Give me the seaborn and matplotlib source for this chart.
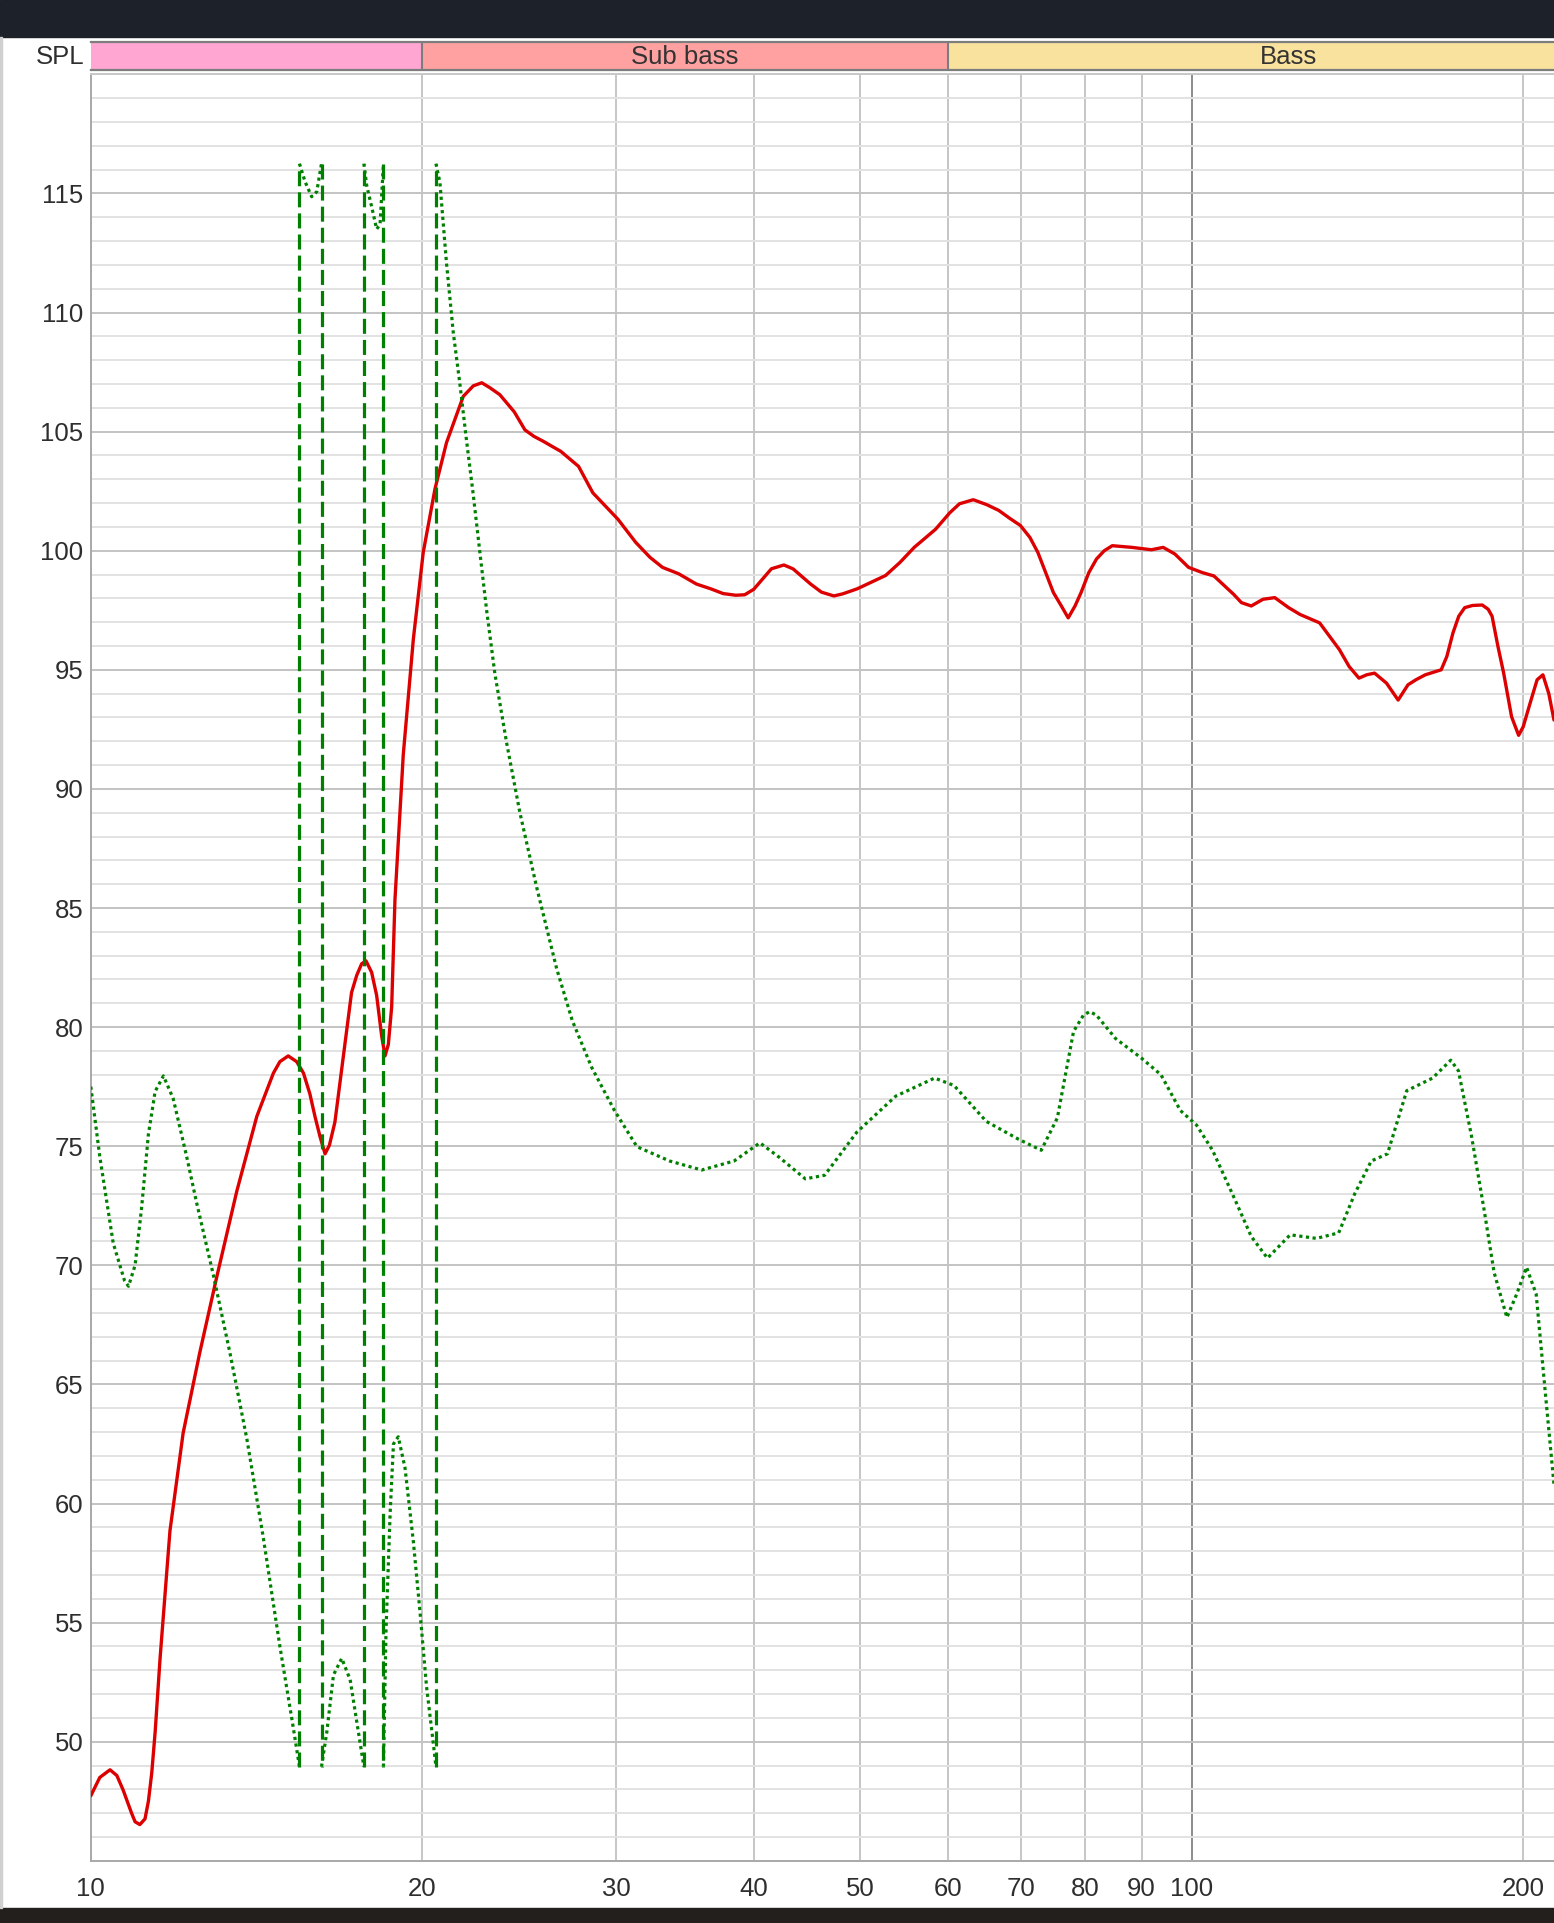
import numpy as np
import matplotlib
matplotlib.use("Agg")
import matplotlib.pyplot as plt
import seaborn as sns
from matplotlib.ticker import MultipleLocator, NullLocator
from matplotlib.patches import Rectangle

# ---------------- data ----------------
red_freq = [10.0, 10.19, 10.41, 10.56, 10.7, 10.89, 10.97, 11.08, 11.2, 11.28, 11.36, 11.44,
            11.56, 11.68, 11.8, 12.13, 12.56, 13.01, 13.57, 14.15, 14.65, 14.85, 15.11, 15.38,
            15.6, 15.81, 15.98, 16.15, 16.32, 16.47, 16.66, 17.08, 17.25, 17.44, 17.62, 17.78,
            17.99, 18.18, 18.37, 18.5, 18.63, 18.76, 18.89, 19.22, 19.63, 20.04, 20.54, 21.04,
            21.79, 22.25, 22.65, 23.04, 23.52, 24.24, 24.79, 25.26, 25.74, 26.72, 27.73, 28.57,
            30.11, 31.25, 32.2, 33.05, 34.19, 35.48, 36.56, 37.52, 38.52, 39.25, 40.0, 41.5,
            42.6, 43.42, 45.05, 46.08, 47.3, 48.19, 49.66, 51.16, 52.7, 54.31, 55.95, 58.5,
            60.26, 61.5, 63.3, 65.13, 66.77, 68.41, 69.85, 71.25, 72.45, 74.85, 76.1, 77.2,
            78.31, 79.3, 80.6, 81.9, 83.25, 84.65, 88.2, 91.88, 94.16, 96.5, 99.3, 102.2,
            104.7, 109.1, 110.9, 113.2, 116.0, 118.9, 122.4, 125.4, 130.6, 136.1, 138.9, 141.8,
            144.1, 146.5, 150.2, 153.9, 157.1, 159.7, 162.9, 168.4, 170.4, 172.6, 174.7, 176.9,
            179.8, 183.5, 185.8, 187.3, 189.6, 191.9, 195.1, 198.0, 199.9, 203.2, 205.8, 208.3,
            210.9, 213.2]
red_spl = [47.73, 48.5, 48.82, 48.58, 47.97, 47.0, 46.64, 46.52, 46.76, 47.5, 48.7, 50.4,
           53.53, 56.2, 58.85, 62.96, 66.34, 69.49, 73.11, 76.25, 78.07, 78.55, 78.79, 78.55,
           78.07, 77.2, 76.25, 75.4, 74.68, 75.04, 76.01, 79.88, 81.45, 82.18, 82.66, 82.78,
           82.3, 81.33, 79.64, 78.79, 79.27, 80.85, 85.36, 91.43, 96.29, 99.93, 102.6, 104.54,
           106.48, 106.92, 107.05, 106.84, 106.55, 105.83, 105.07, 104.8, 104.6, 104.17, 103.54, 102.43,
           101.32, 100.35, 99.72, 99.3, 99.03, 98.6, 98.4, 98.2, 98.13, 98.15, 98.38, 99.24,
           99.4, 99.24, 98.6, 98.26, 98.1, 98.19, 98.4, 98.68, 98.96, 99.51, 100.14, 100.9,
           101.59, 101.97, 102.14, 101.93, 101.69, 101.34, 101.06, 100.56, 99.93, 98.24, 97.68, 97.18,
           97.68, 98.24, 99.08, 99.65, 100.0, 100.21, 100.14, 100.04, 100.14, 99.86, 99.3, 99.08,
           98.94, 98.17, 97.82, 97.68, 97.96, 98.03, 97.61, 97.32, 96.97, 95.85, 95.14, 94.65,
           94.79, 94.86, 94.44, 93.73, 94.37, 94.58, 94.79, 95.0, 95.56, 96.55, 97.25, 97.61,
           97.7, 97.72, 97.54, 97.25, 95.99, 94.86, 93.03, 92.25, 92.61, 93.73, 94.58, 94.79,
           94.0, 92.89]

# green trace, split where it wraps around the display range
green_freq_1 = [10.0, 10.19, 10.48, 10.73, 10.82, 10.97, 11.12, 11.28, 11.44, 11.64, 11.88,
                12.22, 12.48, 12.92, 13.38, 13.86, 14.34, 14.85, 15.27, 15.47]
green_spl_1 = [77.5, 74.56, 70.93, 69.36, 69.12, 70.0, 72.4, 75.5, 77.3, 77.95, 77.0,
               74.56, 72.6, 69.6, 66.3, 62.7, 58.6, 54.0, 50.6, 48.95]
green_freq_2 = [15.47, 15.65, 15.87, 16.04, 16.2]
green_spl_2 = [116.25, 115.5, 114.86, 115.07, 116.25]
green_freq_3 = [16.2, 16.38, 16.61, 16.9, 17.2, 17.5, 17.7]
green_spl_3 = [48.95, 50.4, 52.8, 53.5, 52.6, 50.4, 48.95]
green_freq_4 = [17.7, 17.81, 18.0, 18.18, 18.31, 18.44]
green_spl_4 = [116.25, 115.3, 114.4, 113.5, 113.7, 116.25]
green_freq_5 = [18.44, 18.54, 18.7, 18.83, 19.02, 19.29, 19.63, 19.9, 20.18, 20.47, 20.58]
green_spl_5 = [48.95, 54.7, 59.6, 62.5, 62.8, 61.5, 58.4, 55.5, 52.3, 49.9, 48.95]
green_freq_6 = [20.58, 20.75, 21.04, 21.34, 21.64, 21.95, 22.25, 22.56, 22.88, 23.28, 23.86,
                24.53, 25.41, 26.49, 27.37, 28.5, 29.89, 31.33, 33.54, 35.87, 38.39, 40.52,
                42.2, 44.55, 46.39, 49.62, 53.82, 58.38, 60.8, 65.05, 69.6, 72.97, 75.47,
                78.07, 79.7, 80.75, 81.9, 85.24, 90.02, 93.72, 97.6, 100.95, 104.4, 109.5, 113.2,
                117.1, 122.8, 129.7, 135.9, 140.6, 145.5, 150.5, 156.7, 165.4, 171.8, 174.6,
                179.4, 184.3, 188.1, 193.2, 197.2, 201.3, 205.4, 209.6, 213.2]
green_spl_6 = [116.25, 115.46, 112.06, 109.15, 106.97, 104.54, 102.35, 99.93, 97.5, 94.83, 91.92,
               89.0, 85.85, 82.45, 80.27, 78.31, 76.5, 74.98, 74.38, 74.0, 74.38, 75.14,
               74.53, 73.63, 73.78, 75.59, 77.1, 77.86, 77.55, 76.04, 75.29, 74.83, 76.19,
               79.82, 80.5, 80.65, 80.5, 79.52, 78.69, 78.0, 76.5, 75.89, 74.83, 72.72, 71.21,
               70.3, 71.28, 71.13, 71.36, 73.02, 74.38, 74.68, 77.33, 77.86, 78.61, 78.16,
               75.44, 72.27, 69.7, 67.81, 68.79, 69.92, 68.79, 64.41, 60.79]

xtick_values = [10, 20, 30, 40, 50, 60, 70, 80, 90, 100, 200]
xtick_labels = ["10", "20", "30", "40", "50", "60", "70", "80", "90", "100", "200"]
ytick_values = [50, 55, 60, 65, 70, 75, 80, 85, 90, 95, 100, 105, 110, 115]

band_names = ["", "Sub bass", "Bass"]
band_low = [5, 20, 60]
band_high = [20, 60, 250]
band_colors = ["#ffa6d3", "#ffa1a1", "#f9e29e"]

# ---------------- style ----------------
sns.set_theme(style="white")
plt.rcParams["font.family"] = ["Liberation Sans", "DejaVu Sans"]

W, H = 1554, 1923
fig = plt.figure(figsize=(W / 100, H / 100), dpi=100)
fig.patch.set_facecolor("white")

X0 = 90.8
Y_TOP, Y_BOT = 74.3, 1860.8
ax = fig.add_axes([X0 / W, 1 - Y_BOT / H, 1 - X0 / W, (Y_BOT - Y_TOP) / H])
ax.set_xscale("log")
ax.set_xlim(10, 213.2)
ax.set_ylim(45, 120)
ax.set_axisbelow(True)

# grid
ax.set_xticks(xtick_values, labels=xtick_labels)
ax.xaxis.set_minor_locator(NullLocator())
ax.set_yticks(ytick_values)
ax.yaxis.set_minor_locator(MultipleLocator(1))
ax.grid(which="minor", axis="y", color="#e2e2e2", linewidth=1.4)
ax.grid(which="major", axis="y", color="#c3c3c3", linewidth=1.4)
ax.grid(which="major", axis="x", color="#c6c6c6", linewidth=1.4)
for gl, v in zip(ax.get_xgridlines(), xtick_values):
    if v == 100:
        gl.set_color("#8c8c8c")

ax.tick_params(which="both", length=0, labelsize=18.5, labelcolor="#2e2e2e")
ax.tick_params(axis="x", pad=12)
ax.tick_params(axis="y", pad=5.4)

for side in ["left", "bottom"]:
    ax.spines[side].set_color("#a9a9a9")
    ax.spines[side].set_linewidth(1.4)
ax.spines["top"].set_color("#c8c8c8")
ax.spines["top"].set_linewidth(1.4)
ax.spines["right"].set_visible(False)

# ---------------- curves ----------------
sns.lineplot(x=red_freq, y=red_spl, ax=ax, color="#dd0000", linewidth=2.4,
             estimator=None, sort=False, zorder=3, solid_joinstyle="round",
             solid_capstyle="round")

green_segments = [(green_freq_1, green_spl_1), (green_freq_2, green_spl_2),
                  (green_freq_3, green_spl_3), (green_freq_4, green_spl_4),
                  (green_freq_5, green_spl_5), (green_freq_6, green_spl_6)]
for f, v in green_segments:
    sns.lineplot(x=f, y=v, ax=ax, color="#008000", linewidth=2.3,
                 linestyle=(0, (1, 1.1)), estimator=None, sort=False, zorder=4,
                 dash_joinstyle="round")
# dashed wrap connectors between consecutive segments
for (f_a, v_a), (f_b, v_b) in zip(green_segments[:-1], green_segments[1:]):
    sns.lineplot(x=[f_a[-1], f_b[0]], y=[v_a[-1], v_b[0]], ax=ax, color="#008000",
                 linewidth=2.3, linestyle=(0, (4.7, 1.9)), estimator=None, sort=False,
                 zorder=4)

ax.set_xlabel("")
ax.set_ylabel("")
if ax.get_legend() is not None:
    ax.get_legend().remove()

# ---------------- band bar ----------------
BY_TOP, BY_BOT = 41.5, 70.0
bax = fig.add_axes([X0 / W, 1 - BY_BOT / H, 1 - X0 / W, (BY_BOT - BY_TOP) / H])
bax.set_xscale("log")
bax.set_xlim(10, 213.2)
bax.set_ylim(0, 1)
for name, lo, hi, col in zip(band_names, band_low, band_high, band_colors):
    bax.axvspan(lo, hi, color=col, lw=0)
    if lo > 10:
        bax.axvline(lo, color="#7d7d7d", lw=1.5)
    if name:
        bax.text(np.sqrt(lo * hi), (BY_BOT - 64.5) / (BY_BOT - BY_TOP), name,
                 ha="center", va="baseline", fontsize=18.5, color="#333333")
bax.set_xticks([])
bax.set_yticks([])
bax.xaxis.set_minor_locator(NullLocator())
for side in ["left", "right"]:
    bax.spines[side].set_visible(False)
for side in ["top", "bottom"]:
    bax.spines[side].set_color("#7d7d7d")
    bax.spines[side].set_linewidth(1.6)

fig.text(84 / W, 1 - 63.5 / H, "SPL", ha="right", va="baseline",
         fontsize=18.5, color="#2e2e2e")

# window chrome bars
fig.add_artist(Rectangle((0, 1 - 37 / H), 1, 37 / H, transform=fig.transFigure,
                         color="#1d2129", zorder=10))
fig.add_artist(Rectangle((0, 0), 1, (H - 1908) / H, transform=fig.transFigure,
                         color="#221f1c", zorder=10))
fig.add_artist(Rectangle((0, (H - 1908) / H), 1.5 / W, (1908 - 37) / H,
                         transform=fig.transFigure, color="#d0d0d0", zorder=10))

fig.savefig("out.png", dpi=100)
